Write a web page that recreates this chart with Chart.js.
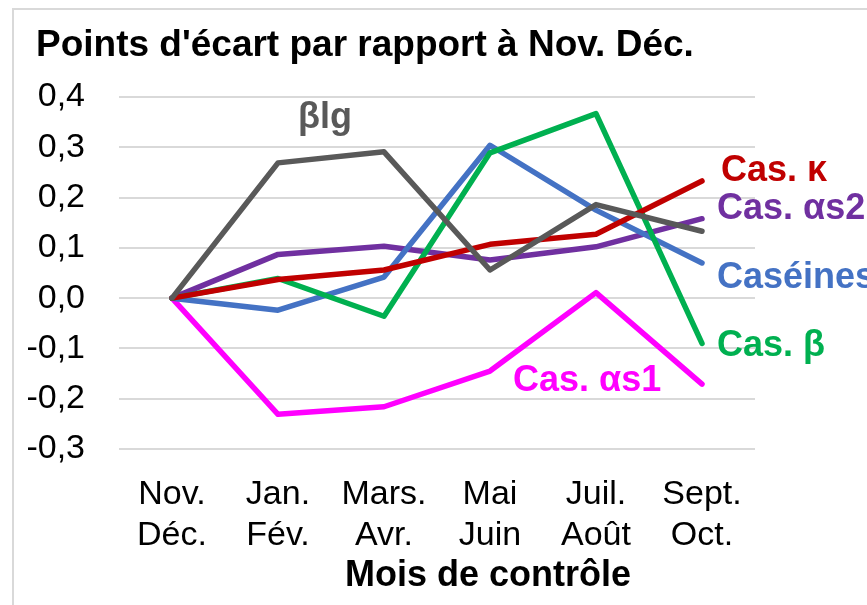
<!DOCTYPE html>
<html>
<head>
<meta charset="utf-8">
<script src="https://cdn.jsdelivr.net/npm/chart.js@4.4.0/dist/chart.umd.min.js"></script>
<style>
  html, body { margin: 0; padding: 0; background: #fff; }
  #wrap { width: 867px; height: 605px; position: relative; }
</style>
</head>
<body>
<div id="wrap"><canvas id="ecartChart" width="867" height="605"></canvas></div>
<script>
const mois = [['Nov.', 'Déc.'], ['Jan.', 'Fév.'], ['Mars.', 'Avr.'], ['Mai', 'Juin'], ['Juil.', 'Août'], ['Sept.', 'Oct.']];

const blg      = [0, 0.269, 0.291, 0.056, 0.186, 0.133];
const casKappa = [0, 0.037, 0.056, 0.107, 0.127, 0.233];
const casBeta  = [0, 0.039, -0.036, 0.289, 0.367, -0.090];
const caseines = [0, -0.024, 0.042, 0.304, 0.175, 0.070];
const casAs2   = [0, 0.087, 0.103, 0.076, 0.102, 0.158];
const casAs1   = [0, -0.231, -0.216, -0.145, 0.011, -0.171];

const SANS = '"Liberation Sans", Arial, sans-serif';

// labels drawn next to the lines: dataset index, anchor point, offset
const lineLabels = [
    {ds: 0, text: 'βlg',       at: 1, dx: 20, dy: -48},
    {ds: 1, text: 'Cas. κ',    at: 5, dx: 19, dy: -13},
    {ds: 4, text: 'Cas. αs2',  at: 5, dx: 15, dy: -13},
    {ds: 3, text: 'Caséines',  at: 5, dx: 15, dy: 12},
    {ds: 2, text: 'Cas. β',    at: 5, dx: 15, dy: 0},
    {ds: 5, text: 'Cas. αs1',  at: 3, dx: 23, dy: 7}
];

const decor = {
    id: 'decor',
    beforeDraw(chart) {
        const c = chart.ctx;
        c.save();
        c.strokeStyle = '#d9d9d9';
        c.lineWidth = 2;
        c.beginPath();
        c.moveTo(13, 605);
        c.lineTo(13, 9);
        c.lineTo(867, 9);
        c.stroke();
        c.fillStyle = '#000';
        c.font = 'bold 37px ' + SANS;
        c.textBaseline = 'alphabetic';
        c.textAlign = 'left';
        c.fillText("Points d'écart par rapport à Nov. Déc.", 36, 56);
        // axis title, centred a bit right of the plot area like the original
        const area = chart.chartArea;
        c.font = 'bold 36px ' + SANS;
        c.textAlign = 'center';
        c.fillText('Mois de contrôle', (area.left + area.right) / 2 + 51, 586);
        c.restore();
    },
    afterDatasetsDraw(chart) {
        const c = chart.ctx;
        c.save();
        c.textBaseline = 'alphabetic';
        c.textAlign = 'left';
        c.font = 'bold 36px ' + SANS;
        lineLabels.forEach(l => {
            const pt = chart.getDatasetMeta(l.ds).data[l.at];
            c.fillStyle = chart.data.datasets[l.ds].borderColor;
            c.fillText(l.text, pt.x + l.dx, pt.y + l.dy + 13);
        });
        c.restore();
    }
};

function serie(label, data, color) {
    return {
        label: label,
        data: data,
        borderColor: color,
        backgroundColor: color,
        borderWidth: 5.5,
        pointRadius: 0,
        tension: 0,
        borderJoinStyle: 'round',
        borderCapStyle: 'round'
    };
}

new Chart(document.getElementById('ecartChart'), {
    type: 'line',
    data: {
        labels: mois,
        datasets: [
            serie('βlg', blg, '#595959'),
            serie('Cas. κ', casKappa, '#C00000'),
            serie('Cas. β', casBeta, '#00B050'),
            serie('Caséines', caseines, '#4472C4'),
            serie('Cas. αs2', casAs2, '#7030A0'),
            serie('Cas. αs1', casAs1, '#FF00FF')
        ]
    },
    options: {
        responsive: false,
        animation: false,
        layout: {padding: {top: 97, right: 112, left: 0, bottom: 0}},
        plugins: {
            legend: {display: false},
            title: {display: false},
            tooltip: {enabled: false}
        },
        scales: {
            x: {
                offset: true,
                grid: {display: false},
                border: {display: false},
                ticks: {
                    color: '#000',
                    font: {family: SANS, size: 34, lineHeight: 1.2},
                    padding: 17,
                    maxRotation: 0,
                    autoSkip: false
                },
                afterFit(scale) { scale.height = 156; }
            },
            y: {
                min: -0.3,
                max: 0.4,
                grid: {color: '#d9d9d9', lineWidth: 2, drawTicks: false},
                border: {display: false},
                ticks: {
                    stepSize: 0.1,
                    color: '#000',
                    font: {family: SANS, size: 34},
                    padding: 34,
                    callback: v => v.toFixed(1).replace('.', ',')
                },
                afterFit(scale) { scale.width = 119; }
            }
        }
    },
    plugins: [decor]
});
</script>
</body>
</html>
